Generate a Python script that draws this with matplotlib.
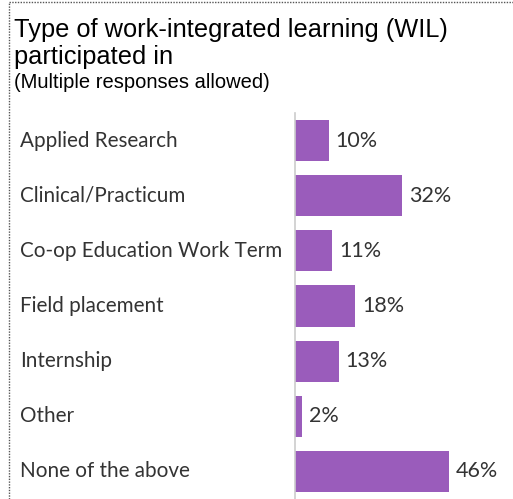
import matplotlib.pyplot as plt
from matplotlib.lines import Line2D
from matplotlib.transforms import blended_transform_factory

categories = ["Applied Research", "Clinical/Practicum", "Co-op Education Work Term",
              "Field placement", "Internship", "Other", "None of the above"]
values = [10, 32, 11, 18, 13, 2, 46]

W, H = 513, 499
fig = plt.figure(figsize=(W / 100, H / 100), dpi=100)

ax = fig.add_axes([295 / W, 0, 1 - 295 / W, 1 - 113 / H])
pos = list(range(len(categories)))
ax.barh(pos, values, height=0.745, color="#9a5cbb")
ax.set_xlim(0, 65)
ax.set_ylim(6.5, -0.5)
ax.set_xticks([])
ax.set_yticks([])
for side in ["top", "right", "bottom"]:
    ax.spines[side].set_visible(False)
ax.spines["left"].set_color("#cccccc")
ax.spines["left"].set_linewidth(1.2)

font = "Lato"
trans = blended_transform_factory(fig.transFigure, ax.transData)
for p, cat, v in zip(pos, categories, values):
    ax.text(20 / W, p, cat, transform=trans, ha="left", va="center",
            fontsize=14.9, family=font, color="#333333")
    ax.annotate(f"{v}%", (v, p), xytext=(5, 0), textcoords="offset points",
                ha="left", va="center", fontsize=15.5, family=font, color="#333333")

fig.text(14 / W, 1 - 37 / H, "Type of work-integrated learning (WIL)", fontsize=18.3,
         family="Liberation Sans", color="black", va="baseline")
fig.text(14 / W, 1 - 64 / H, "participated in", fontsize=18.3,
         family="Liberation Sans", color="black", va="baseline")
fig.text(14 / W, 1 - 88 / H, "(Multiple responses allowed)", fontsize=14.5,
         family="Liberation Sans", color="black", va="baseline")

# dotted frame on left and top
fig.add_artist(Line2D([9 / W, 9 / W], [0, 1 - 2 / H], transform=fig.transFigure,
                      color="#555555", linestyle=(0, (1, 1)), linewidth=1))
fig.add_artist(Line2D([9 / W, 1], [1 - 2 / H, 1 - 2 / H], transform=fig.transFigure,
                      color="#555555", linestyle=(0, (1, 1)), linewidth=1))

fig.savefig("out.png", dpi=100)
